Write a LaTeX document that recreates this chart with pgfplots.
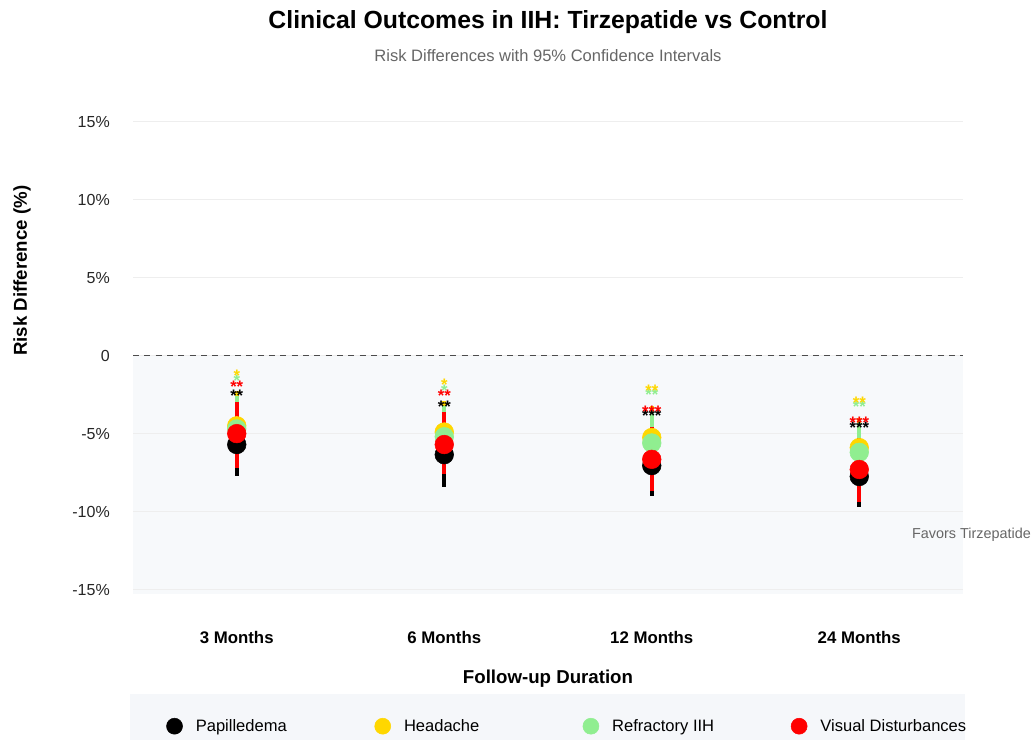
\documentclass[border=0pt]{standalone}
\usepackage{fontspec}
\setmainfont{Liberation Sans}
\usepackage{pgfplots}
\pgfplotsset{compat=1.18}
\usepackage{pgfplotstable}
\usetikzlibrary{calc}

\definecolor{cblack}{HTML}{000000}
\definecolor{cyellow}{HTML}{FFD700}
\definecolor{cgreen}{HTML}{90EE90}
\definecolor{cred}{HTML}{FF0000}
\definecolor{shadec}{HTML}{F7F9FB}
\definecolor{legbg}{HTML}{F5F7FA}
\definecolor{gridc}{HTML}{EEEEEE}
\definecolor{subgray}{HTML}{666666}

% x y ep em lab ly
\pgfplotstableread{
x y ep em lab ly
0 -5.70 2.10 2.00 ** -2.60
1 -6.35 2.05 2.05 ** -3.30
2 -7.05 2.20 1.95 *** -3.85
3 -7.75 2.15 1.95 *** -4.60
}\tpap
\pgfplotstableread{
x y ep em lab ly
0 -4.50 2.20 2.10 * -1.30
1 -4.90 2.00 2.10 * -1.90
2 -5.25 2.00 2.15 ** -2.25
3 -5.90 1.90 2.10 ** -3.00
}\thead
\pgfplotstableread{
x y ep em lab ly
0 -4.70 2.10 2.10 * -1.60
1 -5.20 1.95 2.00 * -2.25
2 -5.60 2.10 2.10 ** -2.50
3 -6.20 1.90 2.10 ** -3.30
}\tref
\pgfplotstableread{
x y ep em lab ly
0 -5.00 2.00 2.20 ** -2.00
1 -5.70 2.10 1.90 ** -2.60
2 -6.65 2.05 2.05 *** -3.60
3 -7.30 2.00 2.10 *** -4.30
}\tvis

\pgfplotsset{
  ser/.style={forget plot, only marks, mark=*, mark size=7pt, color=#1, mark options={draw=#1, fill=#1},
    error bars/y dir=both, error bars/y explicit, error bars/error mark=none,
    error bars/error bar style={line width=3pt, #1}},
  stars/.style={only marks, mark=none, forget plot, nodes near coords,
    point meta=explicit symbolic,
    nodes near coords style={anchor=center, text=#1, inner sep=0pt,
      font=\bfseries\fontsize{12.5}{12}\selectfont}},
  limg/.style={legend image code/.code={\fill[#1] (6pt,0.6pt) circle (6pt);}},
}

\begin{document}
\begin{tikzpicture}
\begin{axis}[
  set layers,
  scale only axis,
  width=622.5pt, height=374.4pt,
  xmin=-0.5, xmax=3.5, ymin=-16, ymax=16,
  clip=false,
  axis line style={draw=none},
  major tick length=0pt,
  xtick={0,1,2,3},
  xticklabels={3 Months, 6 Months, 12 Months, 24 Months},
  xticklabel style={anchor=center, yshift=-24pt, inner sep=0pt,
    font=\bfseries\fontsize{12.6}{14}\selectfont},
  ytick={-15,-10,-5,0,5,10,15},
  yticklabels={-15\%,-10\%,-5\%,0,5\%,10\%,15\%},
  yticklabel style={anchor=east, xshift=-17.25pt, inner sep=0pt,
    font=\fontsize{12}{14}\selectfont, text=black!85},
  ymajorgrids,
  grid style={gridc, line width=0.75pt},
  xlabel={Follow-up Duration},
  xlabel style={at={(axis description cs:0.5,0)}, anchor=center, yshift=-54.75pt,
    font=\bfseries\fontsize{14}{16}\selectfont},
  ylabel={Risk Difference (\%)},
  ylabel style={at={(axis description cs:0,0.670)}, anchor=center, yshift=83.25pt,
    font=\bfseries\fontsize{14}{16}\selectfont},
  legend columns=4,
  legend cell align=left,
  legend style={at={(axis description cs:0,0)}, anchor=west,
    xshift=24.75pt, yshift=-90.75pt, draw=none, fill=none, inner sep=0pt,
    nodes={inner sep=0pt},
    font=\fontsize{12.4}{14}\selectfont,
    /tikz/every odd column/.append style={column sep=9.75pt}},
]
\coordinate (pl) at (rel axis cs:0,0);
\coordinate (pr) at (rel axis cs:1,1);

\begin{pgfonlayer}{axis background}
\fill[shadec] (axis cs:-0.5,0) rectangle (axis cs:3.5,-15.25);
\end{pgfonlayer}
\fill[legbg] ($(rel axis cs:0,0)+(-2.25pt,-66.75pt)$) rectangle ($(rel axis cs:1,0)+(1.5pt,-101pt)$);

\addplot[black!70, line width=0.9pt, dash pattern=on 4.5pt off 4pt, forget plot] coordinates {(-0.5,0) (3.5,0)};

\addlegendimage{limg=cblack}
\addlegendentry{\makebox[134pt][l]{Papilledema}}
\addlegendimage{limg=cyellow}
\addlegendentry{\makebox[134pt][l]{Headache}}
\addlegendimage{limg=cgreen}
\addlegendentry{\makebox[134pt][l]{Refractory IIH}}
\addlegendimage{limg=cred}
\addlegendentry{\makebox[134pt][l]{Visual Disturbances}}

\addplot[ser=cblack] table[x=x, y=y, y error plus=ep, y error minus=em] {\tpap};
\addplot[ser=cyellow] table[x=x, y=y, y error plus=ep, y error minus=em] {\thead};
\addplot[ser=cgreen] table[x=x, y=y, y error plus=ep, y error minus=em] {\tref};
\addplot[ser=cred] table[x=x, y=y, y error plus=ep, y error minus=em] {\tvis};

\addplot[stars=cblack] table[x=x, y=ly, meta=lab] {\tpap};
\addplot[stars=cgreen] table[x=x, y=ly, meta=lab] {\tref};
\addplot[stars=cyellow] table[x=x, y=ly, meta=lab] {\thead};
\addplot[stars=cred] table[x=x, y=ly, meta=lab] {\tvis};

\node[font=\fontsize{10.8}{12}\selectfont, text=subgray, xshift=6.4pt] at (axis cs:3.5,-11.5) {Favors Tirzepatide};

\node[font=\bfseries\fontsize{18.6}{22}\selectfont, yshift=63pt] at (rel axis cs:0.5,1) {Clinical Outcomes in IIH: Tirzepatide vs Control};
\node[font=\fontsize{12.4}{14}\selectfont, text=subgray, yshift=38pt] at (rel axis cs:0.5,1) {Risk Differences with 95\% Confidence Intervals};
\end{axis}
\pgfresetboundingbox
\path[use as bounding box] ($(pl)+(-99.75pt,-100.5pt)$) rectangle ($(pr)+(52.5pt,79.5pt)$);
\end{tikzpicture}
\end{document}
